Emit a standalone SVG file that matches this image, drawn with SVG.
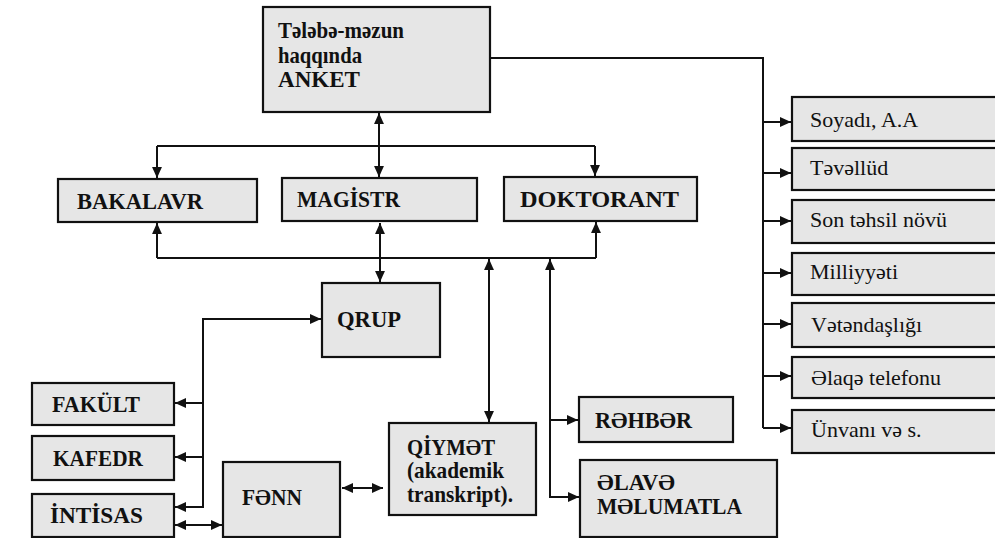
<svg xmlns="http://www.w3.org/2000/svg" width="995" height="538" viewBox="0 0 995 538">
<style>
.box{fill:#e6e6e6;stroke:#111;stroke-width:2.2}
.b{font-family:"Liberation Serif","Times New Roman",serif;font-weight:bold;font-size:23px;fill:#111}
.r{font-family:"Liberation Serif","Times New Roman",serif;font-size:22px;fill:#111}
.c{fill:none;stroke:#111;stroke-width:2}
.e{marker-end:url(#ah)}
.s{marker-start:url(#ah)}
</style>
<defs>
<marker id="ah" viewBox="0 0 10 10" refX="10" refY="5" markerWidth="12" markerHeight="11" markerUnits="userSpaceOnUse" orient="auto-start-reverse"><path d="M0,0.5 L10,5 L0,9.5 Z" fill="#111"/></marker>
</defs>
<rect width="995" height="538" fill="#fff"/>
<g id="connectors">
<path class="c s e" d="M379,113 V177"/>
<path class="c e" d="M157,146 V178"/>
<path class="c" d="M157,146 H595"/>
<path class="c e" d="M595,146 V176"/>
<path class="c" d="M157,258 H596"/>
<path class="c e" d="M157,258 V223"/>
<path class="c e" d="M596,258 V222"/>
<path class="c s e" d="M380,223 V282"/>
<path class="c s e" d="M489,259 V422"/>
<path class="c s e" d="M550,259 V497 H579"/>
<path class="c e" d="M550,420 H578"/>
<path class="c" d="M491,58 H763 V428"/>
<path class="c e" d="M763,122 H791"/>
<path class="c e" d="M763,173 H791"/>
<path class="c e" d="M763,221 H791"/>
<path class="c e" d="M763,273 H791"/>
<path class="c e" d="M763,324 H791"/>
<path class="c e" d="M763,376 H791"/>
<path class="c e" d="M763,428 H791"/>
<path class="c s e" d="M321,319 H203 V507 H175"/>
<path class="c e" d="M203,403 H175"/>
<path class="c e" d="M203,457 H175"/>
<path class="c s e" d="M175,525 H222"/>
<path class="c s e" d="M342,488 H383"/>
</g>
<g id="anket">
<rect class="box" x="263" y="7" width="227" height="105"/>
<text class="b" x="278" y="38" textLength="126" lengthAdjust="spacingAndGlyphs">Tələbə-məzun</text>
<text class="b" x="278" y="63" textLength="84" lengthAdjust="spacingAndGlyphs">haqqında</text>
<text class="b" x="278" y="87" textLength="82" lengthAdjust="spacingAndGlyphs">ANKET</text>
</g>
<g id="bakalavr">
<rect class="box" x="58" y="179" width="199" height="43"/>
<text class="b" x="77" y="209" textLength="126" lengthAdjust="spacingAndGlyphs">BAKALAVR</text>
</g>
<g id="magistr">
<rect class="box" x="282" y="178" width="195" height="43"/>
<text class="b" x="297" y="207" textLength="103" lengthAdjust="spacingAndGlyphs">MAGİSTR</text>
</g>
<g id="doktorant">
<rect class="box" x="504" y="177" width="193" height="44"/>
<text class="b" x="520" y="207" textLength="159" lengthAdjust="spacingAndGlyphs">DOKTORANT</text>
</g>
<g id="qrup">
<rect class="box" x="322" y="283" width="118" height="74"/>
<text class="b" x="337" y="327" textLength="64" lengthAdjust="spacingAndGlyphs">QRUP</text>
</g>
<g id="fakult">
<rect class="box" x="32" y="383" width="142" height="42"/>
<text class="b" x="52" y="412" textLength="88" lengthAdjust="spacingAndGlyphs">FAKÜLT</text>
</g>
<g id="kafedr">
<rect class="box" x="32" y="436" width="142" height="44"/>
<text class="b" x="53" y="466" textLength="90" lengthAdjust="spacingAndGlyphs">KAFEDR</text>
</g>
<g id="intisas">
<rect class="box" x="32" y="494" width="142" height="43"/>
<text class="b" x="50" y="523" textLength="93" lengthAdjust="spacingAndGlyphs">İNTİSAS</text>
</g>
<g id="fenn">
<rect class="box" x="223" y="462" width="117" height="75"/>
<text class="b" x="242" y="505" textLength="60" lengthAdjust="spacingAndGlyphs">FƏNN</text>
</g>
<g id="qiymet">
<rect class="box" x="389" y="423" width="147" height="92"/>
<text class="b" x="407" y="455" textLength="88" lengthAdjust="spacingAndGlyphs">QİYMƏT</text>
<text class="b" x="407" y="478" textLength="97" lengthAdjust="spacingAndGlyphs">(akademik</text>
<text class="b" x="407" y="502" textLength="106" lengthAdjust="spacingAndGlyphs">transkript).</text>
</g>
<g id="rehber">
<rect class="box" x="579" y="397" width="154" height="45"/>
<text class="b" x="595" y="428" textLength="97" lengthAdjust="spacingAndGlyphs">RƏHBƏR</text>
</g>
<g id="elave">
<rect class="box" x="580" y="460" width="197" height="77"/>
<text class="b" x="597" y="490" textLength="78" lengthAdjust="spacingAndGlyphs">ƏLAVƏ</text>
<text class="b" x="597" y="514" textLength="145" lengthAdjust="spacingAndGlyphs">MƏLUMATLA</text>
</g>
<g id="soyadi">
<rect class="box" x="792" y="97" width="220" height="44"/>
<text class="r" x="810" y="127">Soyadı, A.A</text>
</g>
<g id="tevellud">
<rect class="box" x="792" y="148" width="220" height="42"/>
<text class="r" x="810" y="175">Təvəllüd</text>
</g>
<g id="tehsil">
<rect class="box" x="792" y="200" width="220" height="43"/>
<text class="r" x="810" y="227">Son təhsil növü</text>
</g>
<g id="milliyyeti">
<rect class="box" x="792" y="253" width="220" height="42"/>
<text class="r" x="810" y="279">Milliyyəti</text>
</g>
<g id="vetendasligi">
<rect class="box" x="792" y="303" width="220" height="44"/>
<text class="r" x="811" y="332">Vətəndaşlığı</text>
</g>
<g id="telefon">
<rect class="box" x="792" y="357" width="220" height="41"/>
<text class="r" x="811" y="385">Əlaqə telefonu</text>
</g>
<g id="unvan">
<rect class="box" x="792" y="410" width="220" height="43"/>
<text class="r" x="811" y="437">Ünvanı və s.</text>
</g>
</svg>
